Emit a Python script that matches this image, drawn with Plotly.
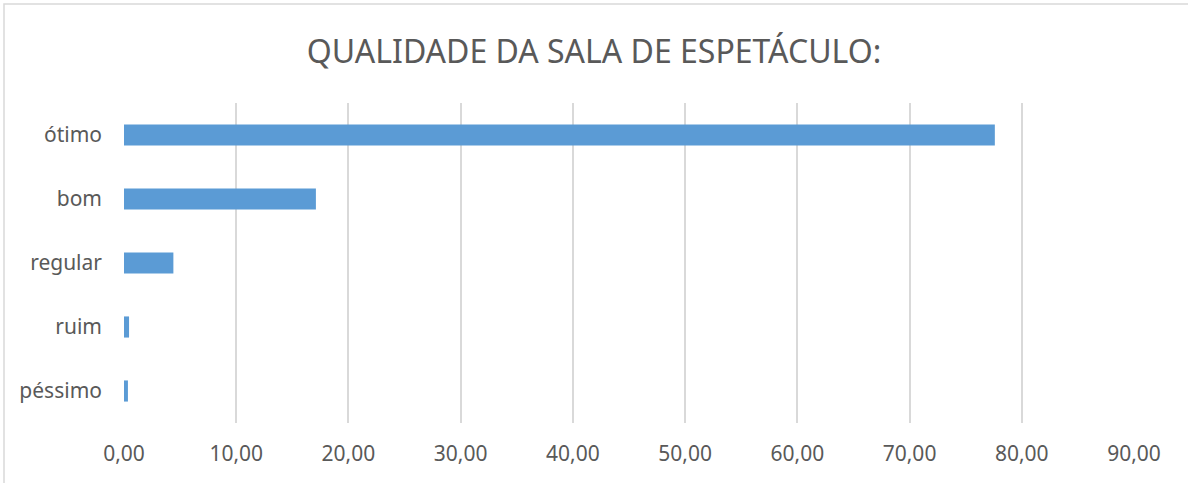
import plotly.graph_objects as go

categories = ["ótimo", "bom", "regular", "ruim", "péssimo"]
values = [77.6, 17.1, 4.4, 0.45, 0.35]
x_ticks = [0, 10, 20, 30, 40, 50, 60, 70, 80, 90]
title_text = "QUALIDADE DA SALA DE ESPETÁCULO:"

W, H = 1188, 483
ml, mr, mt, mb = 124, 54, 103, 60

fig = go.Figure(go.Bar(
    x=values, y=categories, orientation="h",
    marker=dict(color="#5b9bd5", line=dict(width=0)),
    width=0.33,
))

fig.update_layout(
    width=W, height=H,
    margin=dict(l=ml, r=mr, t=mt, b=mb, autoexpand=False),
    paper_bgcolor="white", plot_bgcolor="white",
    separators=",.",
    font=dict(family="Noto Sans", color="#595959", size=21),
    title=dict(text=title_text, x=0.5, xanchor="center", y=1 - 52 / H,
               yanchor="middle", yref="container",
               font=dict(family="Noto Sans", size=32, color="#595959")),
    showlegend=False,
    xaxis=dict(range=[0, 90], tickvals=x_ticks, tickformat=".2f",
               showgrid=True, gridcolor="#d9d9d9", gridwidth=1.5,
               zeroline=False, showline=False, ticks="",
               ticklabelstandoff=16, fixedrange=True),
    yaxis=dict(categoryorder="array", categoryarray=categories[::-1],
               showgrid=False, zeroline=False, showline=False, ticks="",
               ticklabelstandoff=21, fixedrange=True),
    shapes=[dict(type="rect", xref="paper", yref="paper",
                 x0=(4 - ml) / (W - ml - mr), x1=(W + 40 - ml) / (W - ml - mr),
                 y0=-(mb + 40) / (H - mt - mb), y1=1 + (mt - 4) / (H - mt - mb),
                 line=dict(color="#d9d9d9", width=1.5), layer="below")],
)

fig.write_html("out.html", config={"displayModeBar": False},
               post_script="document.body.style.margin='0';document.body.style.overflow='hidden';")
